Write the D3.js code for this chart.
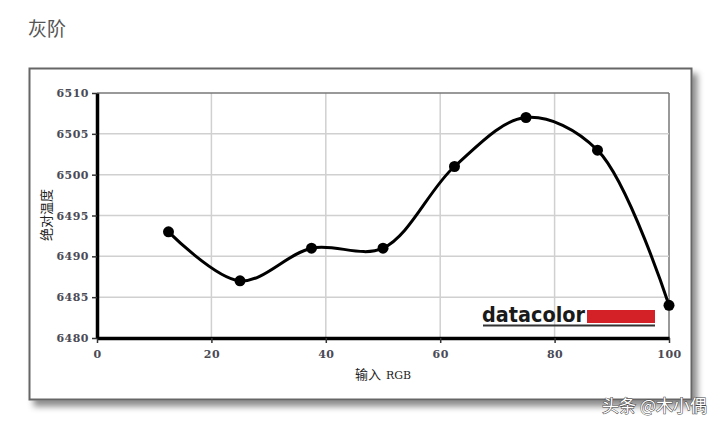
<!DOCTYPE html>
<html>
<head>
<meta charset="utf-8">
<script src="https://cdn.jsdelivr.net/npm/d3@7"></script>
<style>
  body { margin: 0; background: #fff; }
  svg { display: block; }
</style>
</head>
<body>
<script>
"use strict";
(function(){
    // chart values
    const rgbInput = [12.5, 25, 37.5, 50, 62.5, 75, 87.5, 100]
    const colorTemp = [6493, 6487, 6491, 6491, 6501, 6507, 6503, 6484]
    const xTicks = [0, 20, 40, 60, 80, 100]
    const yTicks = [6480, 6485, 6490, 6495, 6500, 6505, 6510]

    const measurements = {
        width: 720,
        height: 427,
        left: 97,
        right: 669,
        top: 93,
        bottom: 338
    }
    const tickFont = "'DejaVu Serif', 'Liberation Serif', serif"
    const cjkFont = "'Noto Sans CJK SC', sans-serif"

    const svg = d3.select("body").append("svg")
        .attr("width", measurements.width)
        .attr("height", measurements.height)

    const defs = svg.append("defs")
    const shadow = defs.append("filter").attr("id", "shadow")
        .attr("x", "-5%").attr("y", "-5%").attr("width", "115%").attr("height", "120%")
    shadow.append("feDropShadow")
        .attr("dx", 5).attr("dy", 6).attr("stdDeviation", 3)
        .attr("flood-color", "#000").attr("flood-opacity", 0.45)

    //Page title
    svg.append("text")
        .attr("x", 28).attr("y", 36)
        .style("font-family", cjkFont)
        .style("font-size", "19px")
        .style("fill", "#555")
        .text("灰阶")

    //Outer frame with shadow
    svg.append("rect")
        .attr("x", 29.5).attr("y", 68.5)
        .attr("width", 662).attr("height", 331)
        .attr("fill", "#fff")
        .attr("stroke", "#666")
        .attr("stroke-width", 2)
        .attr("filter", "url(#shadow)")

    let scaleX = d3.scaleLinear()
        .domain([0, 100])
        .range([measurements.left, measurements.right])
    let scaleY = d3.scaleLinear()
        .domain([6480, 6510])
        .range([measurements.bottom, measurements.top])

    //Grid lines
    svg.append("g").selectAll("line.gx")
        .data(xTicks.slice(1))
        .enter().append("line")
        .attr("x1", d => scaleX(d)).attr("x2", d => scaleX(d))
        .attr("y1", measurements.top).attr("y2", measurements.bottom)
        .attr("stroke", d => d === 100 ? "#777" : "#d0d0d0")
        .attr("stroke-width", 1.5)
    svg.append("g").selectAll("line.gy")
        .data(yTicks.slice(1))
        .enter().append("line")
        .attr("x1", measurements.left).attr("x2", measurements.right)
        .attr("y1", d => scaleY(d)).attr("y2", d => scaleY(d))
        .attr("stroke", d => d === 6510 ? "#777" : "#d0d0d0")
        .attr("stroke-width", 1.5)

    //Axes
    let xAxis = d3.axisBottom(scaleX).tickValues(xTicks).tickSize(5).tickSizeOuter(0)
        .tickFormat(d3.format("d"))
    let yAxis = d3.axisLeft(scaleY).tickValues(yTicks).tickSize(5).tickSizeOuter(0)
        .tickFormat(d3.format("d"))
    const gx = svg.append("g")
        .attr("transform", `translate(0,${measurements.bottom})`)
        .call(xAxis)
    const gy = svg.append("g")
        .attr("transform", `translate(${measurements.left},0)`)
        .call(yAxis)
    ;[gx, gy].forEach(g => {
        g.select(".domain").attr("stroke", "#000").attr("stroke-width", 3.5)
        g.selectAll(".tick line").attr("stroke", "#333").attr("stroke-width", 1.5)
        g.selectAll(".tick text")
            .style("font-family", tickFont)
            .style("font-size", "11px")
            .style("font-weight", "bold")
            .style("letter-spacing", "0.5px")
            .style("fill", "#4a4a55")
    })
    gx.selectAll(".tick text").attr("dy", "1.1em")
    gy.selectAll(".tick text").attr("x", -8)

    //Axis labels
    svg.append("text")
        .attr("transform", "rotate(-90)")
        .attr("x", -215).attr("y", 51)
        .style("text-anchor", "middle")
        .style("font-family", cjkFont)
        .style("font-size", "13px")
        .style("fill", "#222")
        .text("绝对温度")
    svg.append("text")
        .attr("x", 383).attr("y", 379)
        .style("text-anchor", "middle")
        .style("font-family", cjkFont)
        .style("font-size", "13px")
        .style("fill", "#222")
        .text("输入")
        .append("tspan")
        .style("font-family", tickFont)
        .style("font-size", "11px")
        .attr("dx", 5)
        .text("RGB")

    //datacolor logo
    svg.append("text")
        .attr("x", 482).attr("y", 322)
        .style("font-family", "'DejaVu Sans', sans-serif")
        .style("font-weight", "bold")
        .style("font-size", "21px")
        .style("fill", "#1a1a1a")
        .attr("textLength", 103)
        .attr("lengthAdjust", "spacingAndGlyphs")
        .text("datacolor")
    svg.append("rect")
        .attr("x", 587).attr("y", 310)
        .attr("width", 68).attr("height", 13)
        .attr("fill", "#d42027")
    svg.append("line")
        .attr("x1", 483).attr("x2", 655)
        .attr("y1", 325.5).attr("y2", 325.5)
        .attr("stroke", "#333").attr("stroke-width", 2)

    //Curve and points
    const points = rgbInput.map((x, i) => [x, colorTemp[i]])
    const line = d3.line()
        .x(d => scaleX(d[0]))
        .y(d => scaleY(d[1]))
        .curve(d3.curveCatmullRom.alpha(0.5))
    svg.append("path")
        .datum(points)
        .attr("d", line)
        .attr("fill", "none")
        .attr("stroke", "#000")
        .attr("stroke-width", 3)
    svg.selectAll(".pt")
        .data(points)
        .enter().append("circle")
        .attr("cx", d => scaleX(d[0]))
        .attr("cy", d => scaleY(d[1]))
        .attr("r", 5.5)
        .attr("fill", "#000")

    //Watermark
    svg.append("text")
        .attr("x", 707).attr("y", 412)
        .style("text-anchor", "end")
        .style("font-family", cjkFont)
        .style("font-size", "17px")
        .style("fill", "#fff")
        .style("stroke", "#444")
        .style("stroke-width", 1)
        .style("paint-order", "stroke")
        .text("头条 @木小偶")
})()
</script>
</body>
</html>
